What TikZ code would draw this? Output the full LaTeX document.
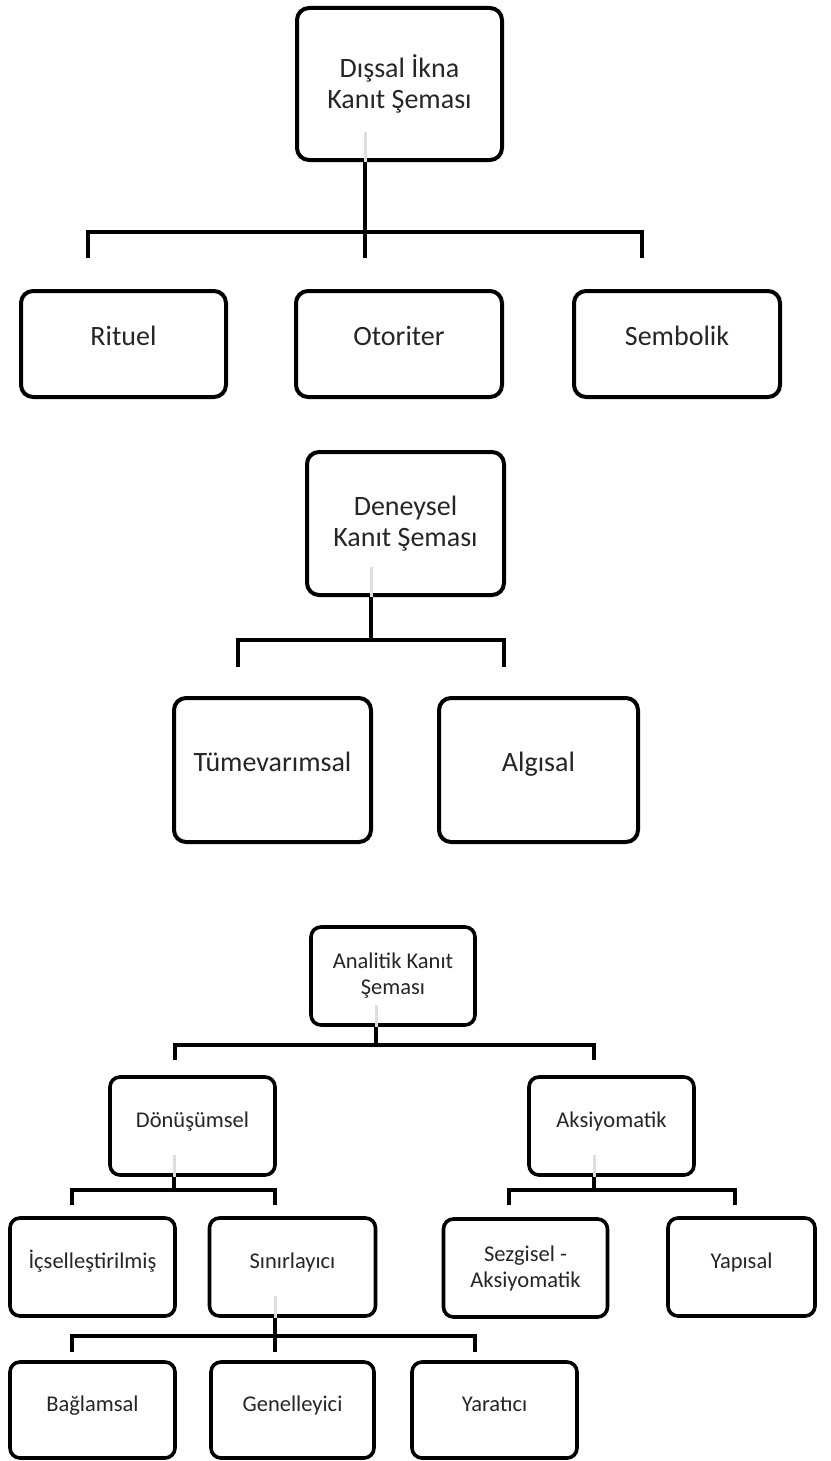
\documentclass[tikz,border=0pt]{standalone}
\usepackage{fontspec}
\setmainfont{Carlito}
\begin{document}
\begin{tikzpicture}[x=1pt,y=-1pt,
  box/.style={draw=black, line width=4pt, rounded corners=12pt, fill=white, align=center, inner sep=0pt, text=black!85},
  big/.style={box, font=\fontsize{28}{31}\selectfont},
  small/.style={box, line width=3.6pt, rounded corners=10pt, font=\fontsize{22.5}{26}\selectfont},
  one/.style={text height=0.64em, text depth=0.30em},
  conn/.style={line width=4pt, line join=miter},
  sconn/.style={line width=3.6pt, line join=miter},
  ghost/.style={line width=3pt, black!13}]
\useasboundingbox (0,0) rectangle (830,1461);
% ---------- Section 1 ----------
\node[big, minimum width=205pt, minimum height=152pt] (A) at (399.5,84) {Dışsal İkna\\Kanıt Şeması};
\node[big, one, minimum width=205pt, minimum height=106pt] (Rit) at (123.5,344) {Rituel};
\node[big, one, minimum width=206pt, minimum height=106pt] (Oto) at (399,344) {Otoriter};
\node[big, one, minimum width=206pt, minimum height=106pt] (Sem) at (677,344) {Sembolik};
\coordinate (abus) at (365,232);
\coordinate (a1) at (88,258);
\coordinate (a2) at (365,258);
\coordinate (a3) at (642,258);
\draw[ghost] (A.south -| abus) -- ++(0,-30);
\draw[conn] (A.south -| abus) -- (abus);
\draw[conn] (a1) -- (a1 |- abus) -- (a3 |- abus) -- (a3);
\draw[conn] (abus) -- (a2);
% ---------- Section 2 ----------
\node[big, minimum width=197pt, minimum height=143pt] (Den) at (405.5,523.5) {Deneysel\\Kanıt Şeması};
\node[big, one, minimum width=197pt, minimum height=144pt] (Tum) at (272.5,770) {Tümevarımsal};
\node[big, one, minimum width=199pt, minimum height=144pt] (Alg) at (538.5,770) {Algısal};
\coordinate (dbus) at (371,640);
\coordinate (d1) at (238,667);
\coordinate (d2) at (504,667);
\draw[ghost] (Den.south -| dbus) -- ++(0,-30);
\draw[conn] (Den.south -| dbus) -- (dbus);
\draw[conn] (d1) -- (d1 |- dbus) -- (d2 |- dbus) -- (d2);
% ---------- Section 3 ----------
\node[small, minimum width=164pt, minimum height=98pt] (Ana) at (393,976) {Analitik Kanıt\\Şeması};
\node[small, one, minimum width=165pt, minimum height=98pt] (Don) at (192.5,1126) {Dönüşümsel};
\node[small, one, minimum width=165pt, minimum height=98pt] (Aks) at (611.5,1126) {Aksiyomatik};
\coordinate (nbus) at (376,1045);
\coordinate (n1) at (175,1060);
\coordinate (n2) at (594,1060);
\draw[ghost] (Ana.south -| nbus) -- ++(0,-22);
\draw[sconn] (Ana.south -| nbus) -- (nbus);
\draw[sconn] (n1) -- (n1 |- nbus) -- (n2 |- nbus) -- (n2);
\node[small, one, minimum width=165pt, minimum height=98pt] (Ics) at (92.5,1267) {İçselleştirilmiş};
\node[small, one, minimum width=166pt, minimum height=98pt] (Sin) at (292.5,1267) {Sınırlayıcı};
\node[small, minimum width=164pt, minimum height=98pt] (Sez) at (525.5,1268) {Sezgisel -\\Aksiyomatik};
\node[small, one, minimum width=147pt, minimum height=98pt] (Yap) at (741.5,1267) {Yapısal};
\coordinate (obus) at (174,1190);
\coordinate (o1) at (72,1205);
\coordinate (o2) at (275,1205);
\draw[ghost] (Don.south -| obus) -- ++(0,-22);
\draw[sconn] (Don.south -| obus) -- (obus);
\draw[sconn] (o1) -- (o1 |- obus) -- (o2 |- obus) -- (o2);
\coordinate (kbus) at (594,1190);
\coordinate (k1) at (509,1205);
\coordinate (k2) at (735,1205);
\draw[ghost] (Aks.south -| kbus) -- ++(0,-22);
\draw[sconn] (Aks.south -| kbus) -- (kbus);
\draw[sconn] (k1) -- (k1 |- kbus) -- (k2 |- kbus) -- (k2);
\node[small, one, minimum width=165pt, minimum height=96pt] (Bag) at (92.5,1410) {Bağlamsal};
\node[small, one, minimum width=163pt, minimum height=96pt] (Gen) at (292.5,1410) {Genelleyici};
\node[small, one, minimum width=165pt, minimum height=96pt] (Yar) at (494.5,1410) {Yaratıcı};
\coordinate (sbus) at (275,1336);
\coordinate (s1) at (72,1352);
\coordinate (s2) at (275,1352);
\coordinate (s3) at (475,1352);
\draw[ghost] (Sin.south -| sbus) -- ++(0,-22);
\draw[sconn] (Sin.south -| sbus) -- (sbus);
\draw[sconn] (s1) -- (s1 |- sbus) -- (s3 |- sbus) -- (s3);
\draw[sconn] (sbus) -- (s2);
\end{tikzpicture}
\end{document}
